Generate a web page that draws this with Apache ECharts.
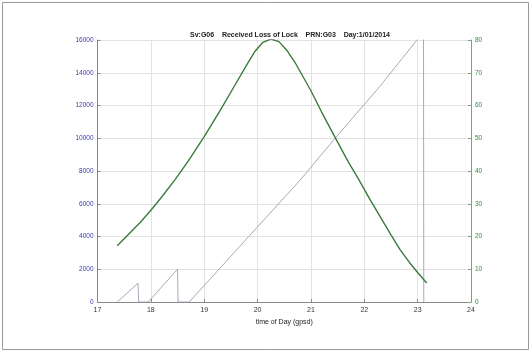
<!DOCTYPE html>
<html><head><meta charset="utf-8">
<script src="https://cdn.jsdelivr.net/npm/echarts@6/dist/echarts.min.js"></script>
<style>html,body{margin:0;padding:0;background:#fff}#c{width:532px;height:353px}</style>
</head><body><div id="c"></div>
<script>
const titleText = 'Sv:G06    Received Loss of Lock    PRN:G03    Day:1/01/2014';
const xName = 'time of Day (gpsd)';
// gray series (left axis)
const lockHours = [17.37, 17.76, 17.77, 17.95, 18.5, 18.51, 18.72, 19.5, 20.8, 21.44, 22.3, 23.11, 23.115];
const lockValues = [0, 1150, 0, 0, 2000, 0, 0, 2800, 7450, 9950, 13200, 16500, 0];
// green series (right axis, elevation)
const elevHours = [17.37, 17.6, 17.8, 18.0, 18.2, 18.45, 18.7, 19.0, 19.3, 19.55, 19.8, 19.95, 20.1, 20.25, 20.4, 20.55, 20.7, 20.8, 21.0, 21.2, 21.5, 21.7, 21.9, 22.1, 22.3, 22.5, 22.67, 22.85, 23.0, 23.17];
const elevValues = [17.2, 21, 24.3, 28, 32, 37.3, 43, 50.5, 58.5, 65.5, 72.5, 76.5, 79.3, 80.3, 79.5, 76.8, 73.2, 70.3, 64.5, 58, 48.8, 42.8, 37.3, 31.5, 26, 20.5, 16, 12, 9, 5.8];
const xTicks = [17, 24, 1];
const leftTicks = [0, 16000, 2000];
const rightTicks = [0, 80, 10];

const chart = echarts.init(document.getElementById('c'), null, {renderer: 'canvas'});
const font = 'Liberation Sans';
chart.setOption({
  animation: false,
  backgroundColor: '#fff',
  title: {text: titleText, left: 285, top: 27, textAlign: 'center',
    textStyle: {fontSize: 7, fontWeight: 'bold', color: '#222', fontFamily: font}},
  graphic: [{type: 'rect', shape: {x: 2.5, y: 2.5, width: 526, height: 347},
    style: {fill: 'none', stroke: '#999', lineWidth: 1}}],
  grid: {left: 97.5, top: 40, width: 373.5, height: 262},
  xAxis: {type: 'value', min: xTicks[0], max: xTicks[1], interval: xTicks[2],
    name: xName, nameLocation: 'middle', nameGap: 12,
    nameTextStyle: {fontSize: 7, color: '#222', fontFamily: font},
    axisLine: {onZero: false, lineStyle: {color: '#888'}},
    axisTick: {inside: true, length: 3, lineStyle: {color: '#888'}},
    axisLabel: {fontSize: 7, color: '#333', margin: 5, fontFamily: font},
    splitLine: {show: true, lineStyle: {color: '#e2e2e2'}}},
  yAxis: [
    {type: 'value', min: leftTicks[0], max: leftTicks[1], interval: leftTicks[2],
      axisLine: {show: true, lineStyle: {color: '#888'}},
      axisTick: {show: true, inside: true, length: 3, lineStyle: {color: '#888'}},
      axisLabel: {fontSize: 6.5, color: '#3a3aa8', margin: 4, fontFamily: font, formatter: v => String(v)},
      splitLine: {show: true, lineStyle: {color: '#e2e2e2'}}},
    {type: 'value', min: rightTicks[0], max: rightTicks[1], interval: rightTicks[2], position: 'right',
      axisLine: {show: true, lineStyle: {color: '#8a9a8a'}},
      axisTick: {show: true, inside: true, length: 3, lineStyle: {color: '#8a9a8a'}},
      axisLabel: {fontSize: 6.5, color: '#2e8b3a', margin: 4, fontFamily: font},
      splitLine: {show: false}}
  ],
  series: [
    {type: 'line', yAxisIndex: 0, showSymbol: false, clip: true,
      data: lockHours.map((h, i) => [h, lockValues[i]]),
      lineStyle: {color: '#a8a8bc', width: 1}},
    {type: 'line', yAxisIndex: 1, showSymbol: false, clip: true,
      data: elevHours.map((h, i) => [h, elevValues[i]]),
      lineStyle: {color: '#3c7a3c', width: 1.4}}
  ]
});
</script></body></html>
